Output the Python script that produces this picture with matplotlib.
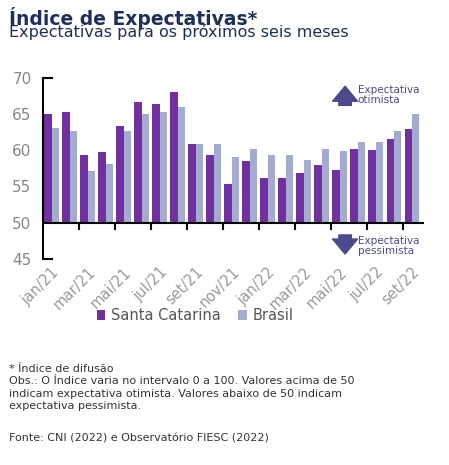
import numpy as np
import matplotlib.pyplot as plt

months = ['jan/21', 'fev/21', 'mar/21', 'abr/21', 'mai/21', 'jun/21', 'jul/21', 'ago/21', 'set/21',
          'out/21', 'nov/21', 'dez/21', 'jan/22', 'fev/22', 'mar/22', 'abr/22', 'mai/22', 'jun/22',
          'jul/22', 'ago/22', 'set/22']
sc = [65.0, 65.3, 59.3, 59.7, 63.3, 66.7, 66.3, 68.0, 60.8, 59.3, 55.3, 58.5, 56.2, 56.1, 56.8,
      58.0, 57.3, 60.1, 60.0, 61.6, 62.9]
br = [63.0, 62.6, 57.2, 58.1, 62.6, 65.0, 65.2, 66.0, 60.9, 60.9, 59.1, 60.1, 59.3, 59.3, 58.6,
      60.2, 59.9, 61.1, 61.1, 62.6, 65.0]

purple = '#7030a0'
light = '#a3abd1'
navy = '#4a4a8c'

fig = plt.figure(figsize=(4.49, 4.65), dpi=100)
ax = fig.add_axes([0.095, 0.443, 0.85, 0.39])
x = np.arange(len(months))
w = 0.4
ax.bar(x - w / 2, np.array(sc) - 50, w, bottom=50, color=purple, label='Santa Catarina')
ax.bar(x + w / 2, np.array(br) - 50, w, bottom=50, color=light, label='Brasil')
ax.set_ylim(45, 70)
ax.set_xlim(-0.5, len(months) - 0.3)
ax.set_yticks(range(45, 71, 5))
ax.tick_params(axis='y', labelsize=11, labelcolor='#888888', length=0, pad=8)
for s in ['top', 'right', 'bottom']:
    ax.spines[s].set_visible(False)
ax.spines['left'].set_linewidth(1.5)
ax.plot([-0.5, 0], [70, 70], color='black', lw=1.5, clip_on=False)
ax.plot([-0.5, 0], [45, 45], color='black', lw=1.5, clip_on=False)
ax.axhline(50, color='black', lw=1.5, zorder=3)
for t in np.arange(1.5, len(months) - 1, 2):
    ax.plot([t, t], [50, 49.2], color='black', lw=1.5, clip_on=False)
ax.set_xticks(x[::2])
ax.set_xticklabels(months[::2], rotation=45, ha='right', rotation_mode='anchor',
                   fontsize=10.5, color='#999999')
ax.tick_params(axis='x', length=0, pad=4)

arrow_style = dict(arrowstyle='simple,head_width=1.0,head_length=0.6,tail_width=0.5',
                   color=navy, mutation_scale=18)
ax.annotate('', xy=(16.3, 69.2), xytext=(16.3, 65.8), arrowprops=arrow_style)
ax.text(17.0, 67.6, 'Expectativa\notimista', fontsize=7.5, color=navy, va='center', linespacing=1.0)
ax.annotate('', xy=(16.3, 45.3), xytext=(16.3, 48.7), arrowprops=arrow_style)
ax.text(17.0, 46.8, 'Expectativa\npessimista', fontsize=7.5, color=navy, va='center', linespacing=1.0)

ax.legend(loc='upper center', bbox_to_anchor=(0.4, -0.2), ncol=2, frameon=False, fontsize=10.5,
          handlelength=0.6, handletextpad=0.4, columnspacing=1.2, labelcolor='#555555')

fig.text(0.02, 0.985, 'Índice de Expectativas*', fontsize=13.5, fontweight='bold', color='#1f2f5c', va='top')
fig.text(0.02, 0.92, 'Expectativas para os próximos seis meses', fontsize=11.5, color='#1f2f5c')
fig.text(0.02, 0.12, '* Índice de difusão\nObs.: O Índice varia no intervalo 0 a 100. Valores acima de 50\n'
         'indicam expectativa otimista. Valores abaixo de 50 indicam\nexpectativa pessimista.',
         fontsize=8, color='#333333', linespacing=1.3)
fig.text(0.02, 0.05, 'Fonte: CNI (2022) e Observatório FIESC (2022)', fontsize=8, color='#333333')
fig.savefig('out.png', dpi=100)
